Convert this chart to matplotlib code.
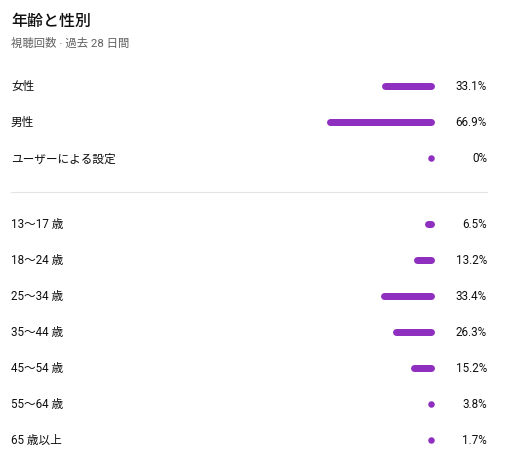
import matplotlib
matplotlib.use("Agg")
import matplotlib.pyplot as plt

plt.rcParams['font.family'] = ['Roboto', 'Noto Sans CJK JP', 'DejaVu Sans']

title = "年齢と性別"
subtitle = "視聴回数 · 過去 28 日間"
gender_labels = ["女性", "男性", "ユーザーによる設定"]
gender_values = [33.1, 66.9, 0.0]
age_labels = ["13〜17 歳", "18〜24 歳", "25〜34 歳", "35〜44 歳", "45〜54 歳", "55〜64 歳", "65 歳以上"]
age_values = [6.5, 13.2, 33.4, 26.3, 15.2, 3.8, 1.7]

W, H, DPI = 512, 471, 100
fig = plt.figure(figsize=(W / DPI, H / DPI), dpi=DPI)
fig.patch.set_facecolor("white")

# background axes in pixel coordinates for text layout
bg = fig.add_axes([0, 0, 1, 1])
bg.set_xlim(0, W)
bg.set_ylim(H, 0)
bg.axis("off")

# bar axes: x in percent, 0 at the right end (pixel 434), 1.61 px per percent
PX_PER_PCT = 1.61
x_right = 434.5
x_left = x_right - 100 * PX_PER_PCT
bar_ax = fig.add_axes([x_left / W, 0, (x_right - x_left) / W, 1])
bar_ax.set_xlim(100, 0)
bar_ax.set_ylim(H, 0)
bar_ax.axis("off")

purple = "#8f2fbf"
bar_px = 7.0
lw_pt = bar_px * 72 / DPI
r_pct = (bar_px / 2) / PX_PER_PCT

text_color = "#0f0f0f"
label_x = 11
pct_x = 487
fs = 8.4

bg.text(label_x, 21, title, fontsize=11.5, fontweight="medium", color=text_color,
        va="center", ha="left")
bg.text(label_x, 43.5, subtitle, fontsize=8.2, color="#606060", va="center", ha="left")

def draw_rows(labels, values, y0):
    for i, (lab, v) in enumerate(zip(labels, values)):
        y = y0 + 36 * i
        bg.text(label_x, y + 0.5, lab, fontsize=fs, color=text_color, va="center", ha="left")
        bg.text(pct_x, y, f"{v:g}%", fontsize=fs, color=text_color, va="center", ha="right")
        if v > 2 * r_pct + 0.5:
            bar_ax.hlines(y, r_pct, v - r_pct, colors=purple, linewidth=lw_pt,
                          capstyle="round")
        else:
            bar_ax.scatter([r_pct], [y], s=(6.5 * 72 / DPI) ** 2, color=purple,
                           linewidths=0)

draw_rows(gender_labels, gender_values, 86.3)
bg.plot([label_x, pct_x], [191.5, 191.5], color="#e3e3e3", linewidth=0.8)
draw_rows(age_labels, age_values, 224.2)

fig.savefig("out.png", dpi=DPI, facecolor="white")
